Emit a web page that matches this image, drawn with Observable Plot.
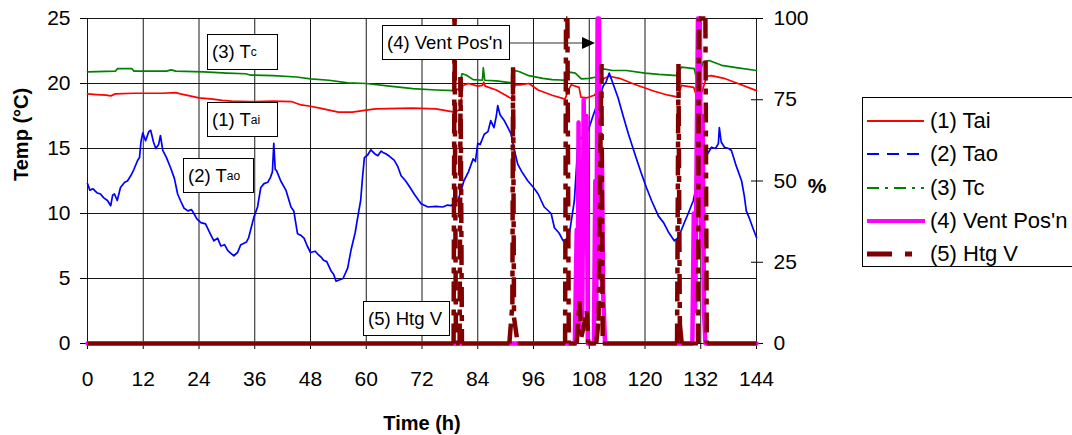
<!DOCTYPE html>
<html><head><meta charset="utf-8">
<script src="https://cdn.jsdelivr.net/npm/d3@7"></script>
<script src="https://cdn.jsdelivr.net/npm/@observablehq/plot@0.6"></script>
<style>
body{margin:0;background:#fff;font-family:"Liberation Sans",Arial,sans-serif;}
#wrap{position:relative;width:1072px;height:435px;overflow:hidden;}
#wrap svg{position:absolute;left:0;top:0;}
.note{position:absolute;background:#fff;border:1px solid #000;font-size:18.5px;display:flex;align-items:center;padding-left:4px;box-sizing:border-box;white-space:nowrap;color:#000;}
.note sub{font-size:12px;vertical-align:-4px;}
#legend{position:absolute;left:862px;top:97px;width:240px;height:170px;border:1px solid #000;box-sizing:border-box;background:#fff;}
.lg{position:absolute;left:4px;height:30px;display:flex;align-items:center;font-size:22px;color:#000;white-space:nowrap;}
.lg svg{position:static !important;margin-right:4px;}
</style></head><body><div id="wrap"></div>
<script>
// ---- tick values ----
const xTicks = [0,12,24,36,48,60,72,84,96,108,120,132,144];
const yTicks = [0,5,10,15,20,25];
const pctTicks = [0,25,50,75,100];

// ---- series names / colours ----
const seriesNames = ["(1) Tai","(2) Tao","(3) Tc","(4) Vent Pos'n","(5) Htg V"];
const seriesColors = ["#ff0000","#0000ff","#008000","#ff00ff","#800000"];

// ---- (1) Tai, degC  [time h, value] ----
const taiData = [[0,19.2],[2,19.15],[4,19.1],[5,19.05],[6,19.2],[10,19.25],[16,19.25],[19,19.3],[20,19.2],[22,19.05],[24,18.9],[27,18.8],[29,18.7],[31,18.65],[35,18.6],[40,18.65],[44,18.6],[46,18.35],[48,18.25],[50,18.1],[52,17.95],[54,17.8],[57,17.8],[60,17.95],[62,18.05],[70,18.1],[75,18.05],[79,17.8],[80.2,18.0],[80.8,19.85],[82,20.0],[84,19.8],[85,19.85],[85.3,20.1],[85.6,19.8],[88,19.5],[90,19.1],[91.4,18.8],[91.8,19.9],[93,19.9],[95,20.0],[97,19.5],[100,19.1],[102.8,18.8],[103.5,19.5],[104.1,19.9],[105.8,19.7],[106.2,18.95],[107.5,18.9],[109.1,19.1],[109.9,19.5],[111,20.36],[112.3,20.56],[114.5,20.4],[118,19.9],[122,19.4],[125,19.1],[127.2,18.95],[127.8,19.85],[130.5,19.7],[131.3,18.8],[132.2,19.3],[133.3,20.56],[134.3,20.6],[137,20.4],[140,20.0],[144,19.45]];

// ---- (2) Tao, degC ----
const taoData = [[0,12.3],[0.5,11.8],[1.2,11.9],[2,11.6],[2.8,11.5],[3.5,11.2],[4.3,11.0],[5,10.6],[5.4,11.4],[5.8,11.5],[6.4,11.0],[7.1,12.0],[8,12.4],[8.6,12.5],[9.3,12.9],[10,13.4],[10.8,14.1],[11.2,14.3],[11.5,15.5],[11.9,16.2],[12.5,15.6],[13.2,16.3],[13.6,16.4],[14.2,15.5],[14.7,15.0],[15.3,15.3],[15.7,16.0],[16.2,14.85],[17,14.3],[17.9,13.5],[18.7,12.7],[19.4,11.5],[20,11.0],[20.8,10.4],[21.6,10.2],[22.4,10.3],[22.9,10.0],[23.5,9.6],[24.4,9.3],[25.4,9.2],[26.2,8.6],[27.2,7.9],[28,8.1],[28.7,7.5],[29.5,7.6],[30.2,7.15],[31,6.9],[31.5,6.75],[32.3,7.0],[33,7.6],[33.6,7.7],[34.2,7.8],[34.7,8.15],[35.3,9.0],[35.8,9.7],[36.6,10.5],[37.3,12.0],[38,12.3],[38.8,12.4],[39.4,12.8],[39.8,13.2],[40.1,15.4],[40.4,13.4],[40.7,13.3],[41.6,12.5],[42.7,11.8],[43.8,10.5],[44.4,10.2],[45.2,8.45],[46,8.3],[46.6,8.1],[47.3,7.5],[48,7.0],[49,7.1],[49.5,6.9],[50.4,6.6],[50.8,6.4],[51.5,6.3],[52.4,5.6],[53,5.3],[53.5,4.8],[54.3,4.9],[55,5.0],[56,5.8],[56.7,7.15],[57.6,8.5],[58.4,10.2],[58.8,11.0],[59.2,12.8],[59.6,14.3],[60.3,14.5],[61,14.9],[61.8,14.6],[62.5,14.45],[63.2,14.8],[63.6,14.7],[64.2,14.6],[65,14.4],[66,14.1],[66.8,13.6],[67.5,12.9],[68.5,12.5],[69.6,11.9],[70.5,11.4],[71.8,10.75],[73.3,10.5],[75,10.55],[76.5,10.5],[77.5,10.65],[78.2,10.6],[79.7,11.0],[80.3,11.6],[81,12.5],[82,13.2],[83,14.2],[83.5,14.0],[84,15.4],[84.5,15.3],[85.4,16.1],[86.2,16.3],[86.8,17.15],[87.5,16.6],[88,17.5],[88.3,18.3],[88.8,17.6],[89.7,17.15],[90.5,16.6],[91.2,16.1],[91.8,15.0],[92.6,13.8],[93.5,13.2],[94.8,12.5],[96,12.0],[97,11.5],[98.3,10.5],[99.8,10.0],[100.5,8.9],[101.5,8.5],[102.4,7.9],[103,8.0],[103.7,8.4],[104.3,9.8],[104.8,11.0],[105.6,15.6],[106.5,15.9],[107.8,16.4],[108.8,17.5],[110,18.7],[111,19.8],[111.6,20.1],[112.3,20.8],[113.2,19.9],[114.2,18.9],[115.3,17.5],[116.4,16.15],[117.8,14.6],[119.2,13.1],[120.3,12.0],[121.4,11.0],[122.9,9.8],[124,9.3],[125,8.6],[126.3,7.9],[127,8.1],[127.8,8.7],[128.6,9.4],[129.3,10.0],[130.4,11.0],[131.2,12.4],[132.1,13.5],[133,14.3],[134.3,15.1],[135.2,15.0],[135.8,15.4],[136,16.6],[136.4,15.5],[137.1,15.1],[138,15.0],[138.6,14.85],[139.5,13.8],[140.8,12.5],[141.4,11.3],[141.8,10.2],[142.5,9.6],[143.2,8.9],[144,8.15]];

// ---- (3) Tc, degC ----
const tcData = [[0,20.9],[6,20.95],[6.5,21.15],[9.5,21.15],[10,20.95],[17,20.95],[18,21.05],[19,20.95],[25,20.9],[30,20.8],[34,20.75],[35,20.65],[40,20.6],[45,20.5],[48,20.35],[52,20.25],[56,20.05],[60,20.0],[65,19.8],[70,19.6],[75,19.5],[79,19.45],[80.0,19.6],[80.6,20.75],[81.5,20.65],[83,20.3],[85,20.25],[85.2,21.2],[85.5,20.25],[88,20.2],[91.5,20.05],[92.0,21.0],[93,20.9],[95,20.6],[98,20.4],[100,20.3],[103,20.25],[103.7,20.87],[105,20.8],[106.3,20.36],[108,20.4],[109.5,20.5],[111,21.13],[113,21.0],[116,21.0],[120,20.8],[123,20.7],[127,20.6],[127.8,21.26],[130.6,21.15],[131.2,20.2],[132.5,21.64],[133.8,21.77],[136.5,21.4],[140,21.2],[144,21.0]];

// ---- (4) Vent Pos'n, % ----
const ventData = [[0,0],[104.9,0],[105.3,35],[105.5,5],[105.7,68],[105.9,5],[106.2,45],[106.5,8],[106.8,75],[107.1,30],[107.4,70],[107.7,0],[109.0,0],[109.3,50],[109.5,10],[109.8,100],[110.1,100],[110.4,20],[110.7,60],[111.0,15],[111.4,0],[130.2,0],[130.5,40],[130.8,10],[131.1,55],[131.4,100],[131.8,100],[132.1,30],[132.4,70],[132.7,10],[133.0,0],[144,0]];

// ---- (5) Htg V, % ----
const htgData = [[0,0],[78.8,0],[79.0,100],[79.3,0],[80.1,0],[80.3,82],[80.6,0],[90.8,0],[91.45,12],[91.6,85],[91.8,8],[92.6,0],[102.8,0],[103.0,100],[103.3,100],[103.6,0],[105.3,0],[105.9,13],[106.3,2],[107.5,10],[107.8,0],[109.5,0],[110.0,7],[110.6,86],[110.9,0],[126.9,0],[127.2,86],[127.5,6],[127.9,0],[131.4,0],[131.6,100],[133.0,100],[133.3,0],[144,0]];

// percent series share the temperature scale: 100 % == 25 degC
const pct = v => v / 4;

// split Htg V into 2-point segments: resting (both 0) drawn solid, moving drawn dashed
const htgSeg = [];
for (let i = 0; i < htgData.length - 1; i++) {
  const a = htgData[i], b = htgData[i+1];
  const rest = a[1] === 0 && b[1] === 0;
  htgSeg.push({seg:i, t:a[0], v:a[1], rest}, {seg:i, t:b[0], v:b[1], rest});
}

const font = '"Liberation Sans",Arial,sans-serif';
const chart = Plot.plot({
  width: 1072, height: 435,
  marginLeft: 87, marginRight: 316, marginTop: 18, marginBottom: 92,
  style: {fontFamily: font, fontSize: "21px", background: "transparent", color: "#000", overflow: "visible"},
  x: {domain: [0, 144]},
  y: {domain: [0, 25]},
  marks: [
    Plot.gridX(xTicks, {stroke: "#000", strokeOpacity: 0.9}),
    Plot.gridY(yTicks, {stroke: "#000", strokeOpacity: 0.9}),
    Plot.axisX(xTicks, {anchor: "bottom", tickSize: 6, tickPadding: 22, label: null}),
    Plot.axisY(yTicks, {anchor: "left", tickSize: 7, tickPadding: 10, label: null}),
    Plot.axisY(pctTicks.map(pct), {anchor: "right", tickSize: 12, dx: -6, tickFormat: () => "", label: null}),
    Plot.axisY(pctTicks.map(pct), {anchor: "right", tickSize: 0, tickPadding: 17, tickFormat: d => String(Math.round(d * 4)), label: null}),
    Plot.line(taiData, {x: d => d[0], y: d => d[1], stroke: seriesColors[0], strokeWidth: 1.7}),
    Plot.line(taoData, {x: d => d[0], y: d => d[1], stroke: seriesColors[1], strokeWidth: 1.7}),
    Plot.line(tcData, {x: d => d[0], y: d => d[1], stroke: seriesColors[2], strokeWidth: 1.7}),
    Plot.line(ventData, {x: d => d[0], y: d => pct(d[1]), stroke: seriesColors[3], strokeWidth: 4.5}),
    Plot.line(htgSeg.filter(d => d.rest), {x: "t", y: d => pct(d.v), z: "seg", stroke: seriesColors[4], strokeWidth: 4, strokeLinecap: "butt"}),
    Plot.line(htgSeg.filter(d => !d.rest), {x: "t", y: d => pct(d.v), z: "seg", stroke: seriesColors[4], strokeWidth: 4.5, strokeLinecap: "butt", strokeDasharray: "20,8,6,8"}),
    Plot.text(["Temp (°C)"], {text: d => d, frameAnchor: "left", rotate: -90, dx: -66, fontWeight: "bold", fontSize: 20}),
    Plot.text(["Time (h)"], {text: d => d, frameAnchor: "bottom", dy: 86, fontWeight: "bold", fontSize: 20}),
    Plot.text(["%"], {text: d => d, frameAnchor: "right", dx: 70, dy: 5, fontWeight: "bold", fontSize: 21})
  ]
});
const wrap = document.getElementById("wrap");
wrap.appendChild(chart);

// ---- annotation boxes ----
const notes = [
  {html: "(3) T<sub>c</sub>", l: 207, t: 34, w: 71, h: 36},
  {html: "(1) T<sub>ai</sub>", l: 207, t: 102, w: 71, h: 35},
  {html: "(2) T<sub>ao</sub>", l: 183, t: 158, w: 71, h: 35},
  {html: "(4) Vent Pos'n", l: 382, t: 25, w: 128, h: 35},
  {html: "(5) Htg V", l: 363, t: 301, w: 87, h: 35}
];
for (const n of notes) {
  const d = document.createElement("div");
  d.className = "note";
  d.innerHTML = n.html;
  Object.assign(d.style, {left: n.l + "px", top: n.t + "px", width: n.w + "px", height: n.h + "px"});
  wrap.appendChild(d);
}
// arrow from Vent Pos'n box
const ns = "http://www.w3.org/2000/svg";
const arr = document.createElementNS(ns, "svg");
arr.setAttribute("width", 1072); arr.setAttribute("height", 435);
arr.style.pointerEvents = "none";
arr.innerHTML = '<line x1="510" y1="43" x2="584" y2="43" stroke="#333" stroke-width="1.2"/><polygon points="582,37 595,43 582,49" fill="#000"/>';
wrap.appendChild(arr);

// ---- legend ----
const leg = document.createElement("div");
leg.id = "legend";
wrap.appendChild(leg);
const samples = [
  '<line x1="0" y1="10" x2="57" y2="10" stroke="#ff0000" stroke-width="2"/>',
  '<line x1="0" y1="10" x2="57" y2="10" stroke="#0000ff" stroke-width="2" stroke-dasharray="12,8"/>',
  '<line x1="0" y1="10" x2="57" y2="10" stroke="#008000" stroke-width="2" stroke-dasharray="12,6,3,6"/>',
  '<line x1="0" y1="10" x2="58" y2="10" stroke="#ff00ff" stroke-width="4"/>',
  '<line x1="0" y1="10" x2="46" y2="10" stroke="#800000" stroke-width="5" stroke-dasharray="25,13,7,13"/>'
];
const rowTop = [8, 41, 75, 108, 141];
seriesNames.forEach((name, i) => {
  const r = document.createElement("div");
  r.className = "lg";
  r.style.top = rowTop[i] + "px";
  r.innerHTML = '<svg width="59" height="20">' + samples[i] + '</svg>';
  const s = document.createElement("span");
  s.textContent = name;
  r.appendChild(s);
  leg.appendChild(r);
});
</script></body></html>
